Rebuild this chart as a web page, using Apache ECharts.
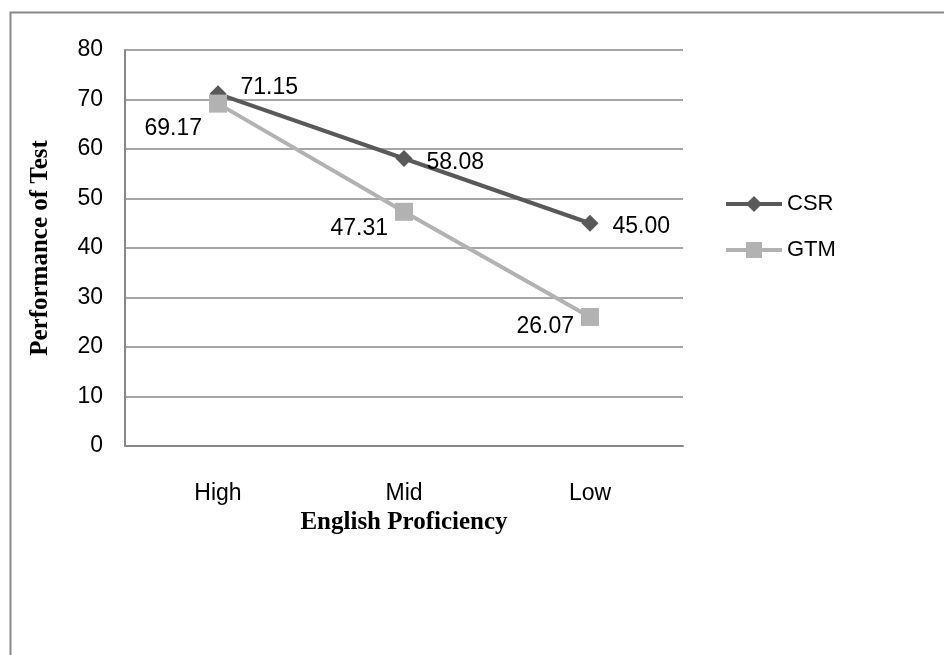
<!DOCTYPE html>
<html>
<head>
<meta charset="utf-8">
<script src="https://cdn.jsdelivr.net/npm/echarts@6/dist/echarts.min.js"></script>
<style>
html, body { margin: 0; padding: 0; background: #fff; }
#main { width: 944px; height: 655px; }
</style>
</head>
<body>
<div id="main"></div>
<script>
// данные
var levels = ['High', 'Mid', 'Low'];
var csr = [71.15, 58.08, 45.00];
var gtm = [69.17, 47.31, 26.07];

var chart = echarts.init(document.getElementById('main'));

// смещения подписей (как в оригинале)
var csrOffsets = [[0, -6], [0, 4], [0, 3]];
var gtmOffsets = [[0, 25], [0, 17], [0, 10]];

function withLabels(vals, offs) {
  return vals.map(function (v, i) {
    return { value: v, label: { offset: offs[i] } };
  });
}

var option = {
  animation: false,
  textStyle: { fontFamily: 'Liberation Sans' },
  graphic: [{
    type: 'rect',
    shape: { x: 10.5, y: 12.5, width: 1000, height: 800 },
    style: { fill: 'none', stroke: '#888', lineWidth: 2 }
  }],
  grid: { left: 125, top: 50, right: 261, bottom: 209 },
  legend: {
    orient: 'vertical',
    left: 719,
    top: 188,
    itemWidth: 56,
    itemHeight: 20,
    itemGap: 24,
    lineStyle: { width: 4 },
    textStyle: { fontSize: 22, color: '#000', fontFamily: 'Liberation Sans Narrow, Liberation Sans' },
    data: ['CSR', 'GTM']
  },
  xAxis: {
    type: 'category',
    data: levels,
    boundaryGap: true,
    axisLine: { lineStyle: { color: '#888', width: 2 } },
    axisTick: { show: false },
    axisLabel: { fontSize: 23, color: '#000', margin: 36 },
    name: 'English Proficiency',
    nameLocation: 'middle',
    nameGap: 52,
    nameTextStyle: { fontFamily: 'Liberation Serif', fontWeight: 'bold', fontSize: 25, color: '#000' }
  },
  yAxis: {
    type: 'value',
    min: 0,
    max: 80,
    interval: 10,
    axisLine: { show: true, lineStyle: { color: '#888', width: 2 } },
    axisTick: { show: false },
    splitLine: { lineStyle: { color: '#888', width: 1.5 } },
    axisLabel: { fontSize: 23, color: '#000', margin: 22 },
    name: 'Performance of Test',
    nameLocation: 'middle',
    nameRotate: 90,
    nameGap: 72,
    nameTextStyle: { fontFamily: 'Liberation Serif', fontWeight: 'bold', fontSize: 25, color: '#000' }
  },
  series: [{
    name: 'CSR',
    type: 'line',
    data: withLabels(csr, csrOffsets),
    symbol: 'diamond',
    symbolSize: 17,
    color: '#595959',
    lineStyle: { width: 4, color: '#595959' },
    itemStyle: { color: '#595959' },
    label: {
      show: true, position: 'right', distance: 14, fontSize: 23, color: '#000',
      formatter: function (p) { return p.value.toFixed(2); }
    },
    z: 3
  }, {
    name: 'GTM',
    type: 'line',
    data: withLabels(gtm, gtmOffsets),
    symbol: 'rect',
    symbolSize: 18,
    color: '#b2b2b2',
    lineStyle: { width: 4, color: '#b2b2b2' },
    itemStyle: { color: '#b2b2b2' },
    label: {
      show: true, position: 'left', distance: 7, fontSize: 23, color: '#000',
      formatter: function (p) { return p.value.toFixed(2); }
    },
    z: 4
  }]
};
chart.setOption(option);
</script>
</body>
</html>
